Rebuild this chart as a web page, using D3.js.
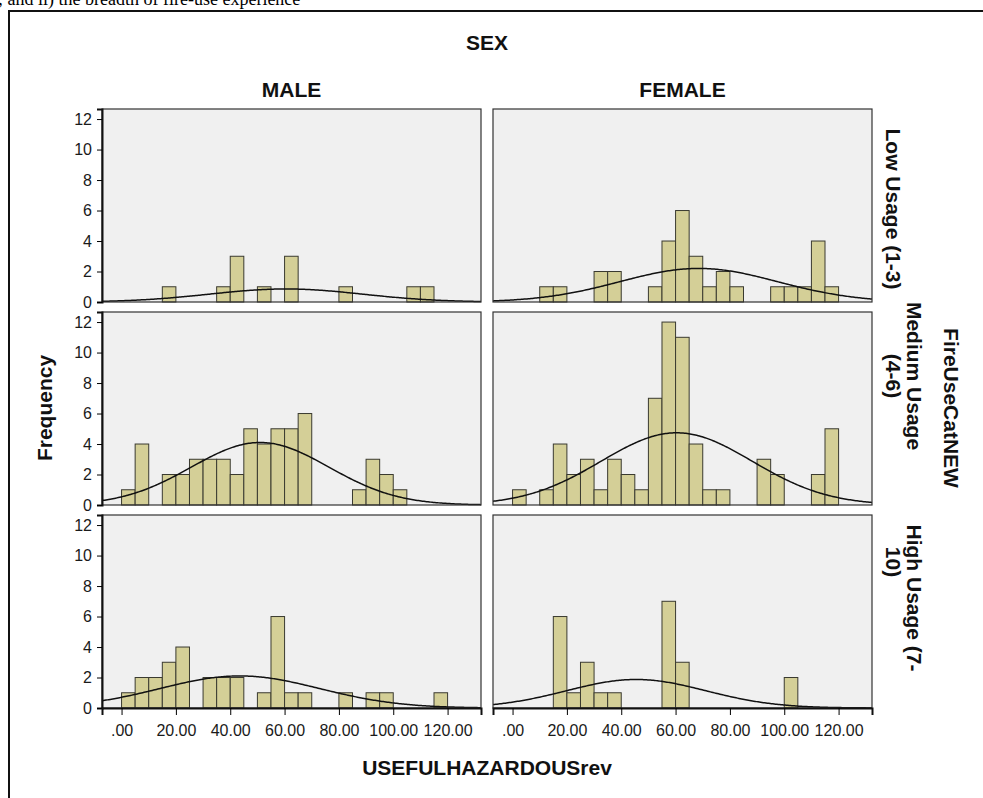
<!DOCTYPE html>
<html>
<head>
<meta charset="utf-8">
<script src="https://cdn.jsdelivr.net/npm/d3@7"></script>
<style>
body { margin: 0; background: #fff; }
svg { display: block; }
</style>
</head>
<body>
<div id="chart"></div>
<script>
// counts per 5-unit bin, bins start at 0 (0-5, 5-10, ... 115-120)
var maleLow    = [0,0,0,1,0,0,0,1,3,0,1,0,3,0,0,0,1,0,0,0,0,1,1,0];
var femaleLow  = [0,0,1,1,0,0,2,2,0,0,1,4,6,3,1,2,1,0,0,1,1,1,4,1];
var maleMed    = [1,4,0,2,2,3,3,3,2,5,4,5,5,6,0,0,0,1,3,2,1,0,0,0];
var femaleMed  = [1,0,1,4,2,3,1,3,2,1,7,12,11,4,1,1,0,0,3,2,0,0,2,5];
var maleHigh   = [1,2,2,3,4,0,2,2,2,0,1,6,1,1,0,0,1,0,1,1,0,0,0,1];
var femaleHigh = [0,0,0,6,1,3,1,1,0,0,0,7,3,0,0,0,0,0,0,0,2,0,0,0];

// normal curve parameters
var curveMean = [[60.5, 68.5], [51, 60.4], [43.5, 45.5]];
var curveSd   = [[28, 29], [25.3, 27.8], [29.4, 25.6]];

var binWidth = 5;
var sexes = ["MALE", "FEMALE"];
var usage = [["Low Usage (1-3)"], ["Medium Usage", "(4-6)"], ["High Usage (7-", "10)"]];
var xTicks = [0, 20, 40, 60, 80, 100, 120];
var yTicks = [0, 2, 4, 6, 8, 10, 12];

var counts = [[maleLow, femaleLow], [maleMed, femaleMed], [maleHigh, femaleHigh]];

var width = 983;
var height = 798;
var colX = [102, 493];
var panelW = 379;
var rowY = [109, 312, 515];
var panelH = 193;
var font = "'Liberation Sans', Arial, sans-serif";

var svg = d3.select("#chart").append("svg")
    .attr("width", width)
    .attr("height", height);

// cropped caption line from the document above the chart
svg.append("text")
    .attr("x", -2).attr("y", 5)
    .attr("font-family", "'Liberation Serif', 'Times New Roman', serif")
    .attr("font-size", 18)
    .text("; and ii) the breadth of fire-use experience");

// outer frame
svg.append("path")
    .attr("d", "M9,800 L9,11 L990,11")
    .attr("fill", "none")
    .attr("stroke", "#111")
    .attr("stroke-width", 2);

var x = d3.scaleLinear().domain([-7.2, 132.3]).range([0, panelW]);
var y = d3.scaleLinear().domain([0, 12.66]).range([panelH, 0]);

function normalCurve(n, mean, sd) {
    var peak = n * binWidth / (sd * Math.sqrt(2 * Math.PI));
    return d3.range(-7.2, 132.4, 0.5).map(function (v) {
        return [v, peak * Math.exp(-((v - mean) * (v - mean)) / (2 * sd * sd))];
    });
}

for (var r = 0; r < 3; r++) {
    for (var c = 0; c < 2; c++) {
        var g = svg.append("g").attr("transform", "translate(" + colX[c] + "," + rowY[r] + ")");
        var data = counts[r][c];

        g.append("rect")
            .attr("width", panelW).attr("height", panelH)
            .attr("fill", "#f0f0f0");

        g.selectAll("rect.bar")
            .data(data.map(function (d, i) { return {k: i, v: d}; }).filter(function (d) { return d.v > 0; }))
            .enter().append("rect")
            .attr("class", "bar")
            .attr("x", function (d) { return x(d.k * binWidth); })
            .attr("width", function (d) { return x((d.k + 1) * binWidth) - x(d.k * binWidth); })
            .attr("y", function (d) { return y(d.v); })
            .attr("height", function (d) { return panelH - y(d.v); })
            .attr("fill", "#d4cf97")
            .attr("stroke", "#3a3a30")
            .attr("stroke-width", 1);

        var n = d3.sum(data);
        g.append("path")
            .datum(normalCurve(n, curveMean[r][c], curveSd[r][c]))
            .attr("fill", "none")
            .attr("stroke", "#111")
            .attr("stroke-width", 1.5)
            .attr("d", d3.line().x(function (d) { return x(d[0]); }).y(function (d) { return y(d[1]); }));

        g.append("rect")
            .attr("width", panelW).attr("height", panelH)
            .attr("fill", "none")
            .attr("stroke", "#333")
            .attr("stroke-width", 1.2);

        if (c == 0) {
            var ay = g.append("g")
                .call(d3.axisLeft(y).tickValues(yTicks).tickSize(5).tickPadding(5).tickFormat(d3.format("d")));
            ay.select(".domain").attr("stroke", "#111").attr("stroke-width", 2);
            ay.selectAll("text").attr("font-family", font).attr("font-size", 16).attr("fill", "#1a1a1a");
        }
        if (r == 2) {
            var ax = g.append("g")
                .attr("transform", "translate(0," + panelH + ")")
                .call(d3.axisBottom(x).tickValues(xTicks).tickSize(7).tickPadding(10)
                    .tickFormat(function (d) { return d === 0 ? ".00" : d.toFixed(2); }));
            ax.select(".domain").attr("stroke", "#111").attr("stroke-width", 2);
            ax.selectAll("text").attr("font-family", font).attr("font-size", 16).attr("fill", "#1a1a1a");
        }
    }
}

// titles
function label(txt, tx, ty, rot, size) {
    svg.append("text")
        .attr("transform", "translate(" + tx + "," + ty + ")" + (rot ? " rotate(" + rot + ")" : ""))
        .attr("text-anchor", "middle")
        .attr("font-family", font)
        .attr("font-weight", "bold")
        .attr("font-size", size)
        .attr("fill", "#111")
        .text(txt);
}

label("SEX", 487, 50, 0, 21);
label(sexes[0], colX[0] + panelW / 2, 97, 0, 21);
label(sexes[1], colX[1] + panelW / 2, 97, 0, 21);
label("Frequency", 52, 408, -90, 21);
label("USEFULHAZARDOUSrev", 487, 775, 0, 21);
label("FireUseCatNEW", 944, 408, 90, 21);

label(usage[0][0], 886, 209, 90, 21);
label(usage[1][0], 907, 376, 90, 21);
label(usage[1][1], 886, 376, 90, 21);
label(usage[2][0], 907, 598, 90, 21);
label(usage[2][1], 886, 562, 90, 21);
</script>
</body>
</html>
